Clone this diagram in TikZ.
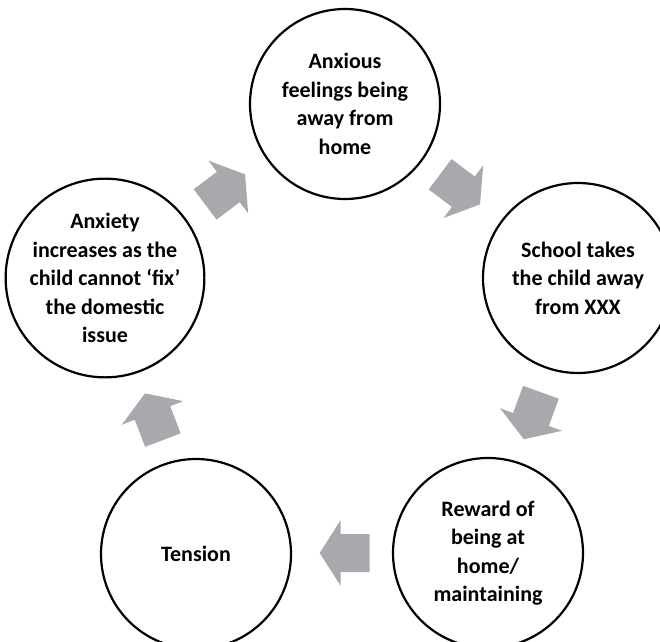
\documentclass[tikz,border=0pt]{standalone}
\usepackage{fontspec}
\setmainfont{Carlito}
\definecolor{arrowgray}{HTML}{A7A9AC}
\begin{document}
\begin{tikzpicture}[x=1pt,y=1pt,
  circ/.style={circle,draw=black,line width=2.2pt,minimum size=190pt,inner sep=0pt,
    align=center,font=\bfseries\fontsize{22}{28.5}\selectfont},
  blockarr/.pic={\fill[arrowgray] (-29,-19) -- (0,-19) -- (0,-33) -- (21,0) -- (0,33) -- (0,19) -- (-29,19) -- cycle;}
]
\useasboundingbox (0,0) rectangle (660,641);
\node[circ] (top) at (345,537) {Anxious\\feelings being\\away from\\home};
\node[circ] (right) at (578,363) {School takes\\the child away\\from XXX};
\node[circ] (bright) at (488,88) {Reward of\\being at\\home/\\maintaining};
\node[circ] (bleft) at (196,87) {Tension};
\node[circ] (left) at (105,363) {Anxiety\\increases as the\\child cannot ‘fix’\\the domestic\\issue};
\pic[rotate=37] at (228.3,454) {blockarr};
\pic[rotate=-37] at (463.3,449.3) {blockarr};
\pic[rotate=-110] at (531,221.5) {blockarr};
\pic[rotate=180] at (340.7,88) {blockarr};
\pic[rotate=111] at (152.5,228) {blockarr};
\end{tikzpicture}
\end{document}
